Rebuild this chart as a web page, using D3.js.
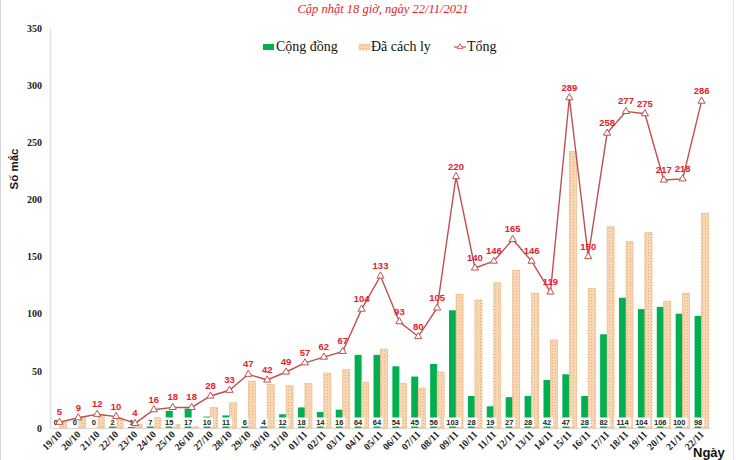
<!DOCTYPE html>
<html>
<head>
<meta charset="utf-8">
<script src="https://cdn.jsdelivr.net/npm/d3@7"></script>
<style>
  html, body { margin: 0; padding: 0; background: #fff; }
  svg { display: block; }
</style>
</head>
<body>
<script>
const dates = ["19/10","20/10","21/10","22/10","23/10","24/10","25/10","26/10","27/10","28/10","29/10","30/10","31/10",
  "01/11","02/11","03/11","04/11","05/11","06/11","07/11","08/11","09/11","10/11","11/11","12/11","13/11","14/11",
  "15/11","16/11","17/11","18/11","19/11","20/11","21/11","22/11"];
const congDong = [0,0,0,2,1,7,15,17,10,11,6,4,12,18,14,16,64,64,54,45,56,103,28,19,27,28,42,47,28,82,114,104,106,100,98];
const daCachLy = [5,9,12,8,3,9,3,1,18,22,41,38,37,39,48,51,40,69,39,35,49,117,112,127,138,118,77,242,122,176,163,171,111,118,188];
const tong = [5,9,12,10,4,16,18,18,28,33,47,42,49,57,62,67,104,133,93,80,105,220,140,146,165,146,119,289,150,258,277,275,217,218,286];
const yTicks = [0,50,100,150,200,250,300,350];
const seriesNames = ["Cộng đồng","Đã cách ly","Tổng"];
const titleText = "Cập nhật 18 giờ, ngày 22/11/2021";
const yTitle = "Số mắc";
const xTitle = "Ngày";

const W = 736, H = 460;
const svg = d3.select("body").append("svg").attr("width", W).attr("height", H);

const defs = svg.append("defs");
const pat = defs.append("pattern").attr("id","hatch").attr("patternUnits","userSpaceOnUse")
  .attr("width",3).attr("height",3);
pat.append("rect").attr("width",3).attr("height",3).attr("fill","#f9dcbc");
pat.append("rect").attr("x",0).attr("y",0).attr("width",1).attr("height",1).attr("fill","#eaa86c");
pat.append("rect").attr("x",1.5).attr("y",1.5).attr("width",1).attr("height",1).attr("fill","#f0bd88");

const GREEN = "#00b050", LINE = "#c0504d", LABEL_RED = "#e8202a", BAR_STROKE = "#efb883";

// frame lines
svg.append("line").attr("x1",0.5).attr("x2",0.5).attr("y1",0).attr("y2",H).attr("stroke","#d6d6d6");
svg.append("line").attr("x1",733.5).attr("x2",733.5).attr("y1",0).attr("y2",H).attr("stroke","#e4e4e4");

const x = d3.scaleBand().domain(dates).range([50, 711]).padding(0);
const y = d3.scaleLinear().domain([0, 350]).range([428, 28]);
const bw = 7;

// title
svg.append("text").attr("x", 383).attr("y", 13).attr("text-anchor","middle")
  .attr("font-family","Liberation Serif, Times New Roman, serif").attr("font-style","italic")
  .attr("font-size", 12.5).attr("fill", LABEL_RED).text(titleText);

// y axis
const yAxis = d3.axisLeft(y).tickValues(yTicks).tickSize(0).tickPadding(8);
const ya = svg.append("g").attr("transform","translate(50,0)").call(yAxis);
ya.select(".domain").attr("stroke","#e0e0e0").attr("stroke-width",1.5);
ya.selectAll("text").attr("font-family","Liberation Serif, Times New Roman, serif")
  .attr("font-weight","bold").attr("font-size",10).attr("fill","#222");

// baseline
svg.append("line").attr("x1",50).attr("x2",711).attr("y1",y(0)+0.5).attr("y2",y(0)+0.5)
  .attr("stroke","#dcdcdc").attr("stroke-width",1);

// y title
svg.append("text").attr("transform","translate(18,169) rotate(-90)").attr("text-anchor","middle")
  .attr("font-family","Liberation Sans, Arial, sans-serif").attr("font-weight","bold")
  .attr("font-size",11.5).attr("fill","#111").text(yTitle);

// bars
const g = svg.append("g");
g.selectAll(".cd").data(dates).join("rect")
  .attr("x", d => x(d) + x.bandwidth()/2 - bw)
  .attr("y", (d,i) => y(congDong[i]))
  .attr("width", bw)
  .attr("height", (d,i) => y(0) - y(congDong[i]))
  .attr("fill", GREEN);
g.selectAll(".cl").data(dates).join("rect")
  .attr("x", d => x(d) + x.bandwidth()/2)
  .attr("y", (d,i) => y(daCachLy[i]))
  .attr("width", bw)
  .attr("height", (d,i) => y(0) - y(daCachLy[i]))
  .attr("fill", "url(#hatch)")
  .attr("stroke", BAR_STROKE).attr("stroke-width", 0.7);

// x axis labels
const xl = svg.append("g");
dates.forEach((d,i) => {
  const cx = x(d) + x.bandwidth()/2 + 3;
  xl.append("text").attr("transform", `translate(${cx},435) rotate(-45)`)
    .attr("text-anchor","end")
    .attr("font-family","Liberation Serif, Times New Roman, serif").attr("font-weight","bold")
    .attr("font-size",10).attr("fill","#222").text(d);
});

// green data labels with white boxes
const gl = svg.append("g");
dates.forEach((d,i) => {
  const cx = x(d) + x.bandwidth()/2 - bw/2;
  const t = String(congDong[i]);
  const w = t.length * 4.6 + 3;
  gl.append("rect").attr("x", cx - w/2).attr("y", 417.5).attr("width", w).attr("height", 9).attr("fill","#fff");
  gl.append("text").attr("x", cx).attr("y", 425).attr("text-anchor","middle")
    .attr("font-family","Liberation Sans, Arial, sans-serif").attr("font-weight","bold")
    .attr("font-size",7.5).attr("fill","#222").text(t);
});

// line
const pts = dates.map((d,i) => [x(d) + x.bandwidth()/2, y(tong[i])]);
svg.append("path").datum(pts).attr("d", d3.line())
  .attr("fill","none").attr("stroke", LINE).attr("stroke-width",1.4);
svg.append("g").selectAll("path").data(pts).join("path")
  .attr("transform", p => `translate(${p[0]},${p[1]})`)
  .attr("d", d3.symbol(d3.symbolTriangle, 22))
  .attr("fill","#fff").attr("stroke", LINE).attr("stroke-width",1);
svg.append("g").selectAll("text").data(pts).join("text")
  .attr("x", p => p[0]).attr("y", p => p[1] - 7)
  .attr("text-anchor","middle")
  .attr("font-family","Liberation Sans, Arial, sans-serif").attr("font-weight","bold")
  .attr("font-size",9.5).attr("fill", LABEL_RED)
  .text((p,i) => tong[i]);

// legend
const lg = svg.append("g").attr("font-family","Liberation Serif, Times New Roman, serif")
  .attr("font-size",14).attr("fill","#111");
lg.append("rect").attr("x",263).attr("y",44).attr("width",11).attr("height",6).attr("fill",GREEN);
lg.append("text").attr("x",276).attr("y",51).text(seriesNames[0]);
lg.append("rect").attr("x",359).attr("y",44).attr("width",11).attr("height",6).attr("fill","url(#hatch)")
  .attr("stroke",BAR_STROKE).attr("stroke-width",0.5);
lg.append("text").attr("x",371).attr("y",51).text(seriesNames[1]);
lg.append("line").attr("x1",454).attr("x2",466).attr("y1",47).attr("y2",47).attr("stroke",LINE).attr("stroke-width",1.2);
lg.append("path").attr("transform","translate(460,47)").attr("d", d3.symbol(d3.symbolTriangle, 14))
  .attr("fill","#fff").attr("stroke",LINE).attr("stroke-width",0.9);
lg.append("text").attr("x",467).attr("y",51).text(seriesNames[2]);

// x title
svg.append("text").attr("x",693).attr("y",457)
  .attr("font-family","Liberation Sans, Arial, sans-serif").attr("font-weight","bold")
  .attr("font-size",13).attr("fill","#111").text(xTitle);
</script>
</body>
</html>
